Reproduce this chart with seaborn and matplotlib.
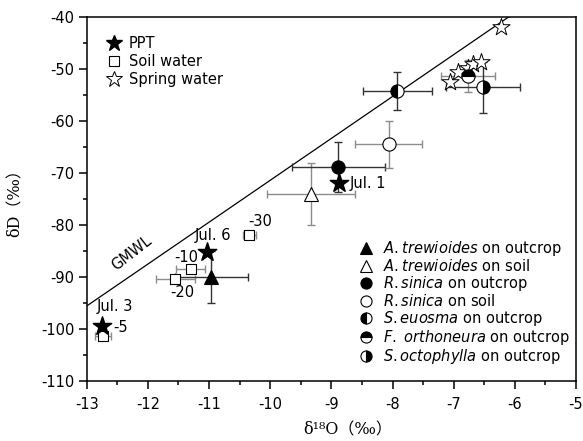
import numpy as np
import pandas as pd
import seaborn as sns
import matplotlib.pyplot as plt
from matplotlib.lines import Line2D

# GMWL
gmwl_x = [-13.0, -6.0]
gmwl_slope = 8.07
gmwl_intercept = 9.3

# precipitation (PPT)
ppt_labels = ['Jul. 3', 'Jul. 6', 'Jul. 1']
ppt_d18o = [-12.75, -11.03, -8.88]
ppt_dd = [-99.5, -85.2, -71.9]

# soil water by depth (cm)
soil_depth = ['-5', '-10', '-20', '-30']
soil_d18o = [-12.74, -11.30, -11.55, -10.34]
soil_dd = [-101.4, -88.4, -90.4, -81.9]
soil_xerr = [0.13, 0.24, 0.32, 0.11]

# spring water
spring_d18o = [-7.06, -6.93, -6.77, -6.68, -6.56, -6.22]
spring_dd = [-52.4, -50.6, -49.8, -49.0, -48.7, -41.8]

# plants: d18O, dD, xerr, yerr
plant_names = ['A.trewioides outcrop', 'A.trewioides soil', 'R.sinica outcrop',
               'R.sinica soil', 'S.euosma outcrop', 'F.orthoneura outcrop',
               'S.octophylla outcrop']
plant_d18o = [-10.96, -9.34, -8.89, -8.06, -7.92, -6.76, -6.52]
plant_dd = [-90.0, -74.1, -68.9, -64.5, -54.2, -51.3, -53.5]
plant_xerr = [0.60, 0.72, 0.76, 0.55, 0.56, 0.44, 0.60]
plant_yerr = [5.0, 6.0, 4.8, 4.5, 3.7, 3.0, 4.9]

legend_species = [r'$\it{A.trewioides}$ on outcrop', r'$\it{A.trewioides}$ on soil',
                  r'$\it{R.sinica}$ on outcrop', r'$\it{R.sinica}$ on soil',
                  r'$\it{S.euosma}$ on outcrop', r'$\it{F.\ orthoneura}$ on outcrop',
                  r'$\it{S.octophylla}$ on outcrop']

sns.set_style('ticks')
plt.rcParams['font.family'] = ['DejaVu Sans']
plt.rcParams['mathtext.fontset'] = 'dejavusans'
for key in ['text.color', 'axes.labelcolor', 'xtick.color', 'ytick.color',
            'axes.edgecolor']:
    plt.rcParams[key] = 'black'

fig = plt.figure(figsize=(5.83, 4.41), dpi=100)
ax = fig.add_axes([0.1487, 0.1367, 0.8393, 0.8241])

# GMWL
gx = np.array(gmwl_x)
gmwl = pd.DataFrame({'x': gx, 'y': gmwl_slope * gx + gmwl_intercept})
sns.lineplot(data=gmwl, x='x', y='y', color='black', lw=0.9, ax=ax, zorder=2)

dark = '#333333'
grey = '#8c8c8c'
bar_colors = [dark, grey, dark, grey, dark, grey, dark]

# error bars
ax.errorbar(soil_d18o, soil_dd, xerr=soil_xerr, fmt='none', ecolor=grey,
            elinewidth=1, capsize=3, zorder=3)
for i in range(len(plant_names)):
    ax.errorbar(plant_d18o[i], plant_dd[i], xerr=plant_xerr[i], yerr=plant_yerr[i],
                fmt='none', ecolor=bar_colors[i], elinewidth=1, capsize=3, zorder=3)

# points
sns.scatterplot(x=soil_d18o, y=soil_dd, marker='s', s=55, facecolor='white',
                edgecolor='black', linewidth=0.8, ax=ax, zorder=5)
sns.scatterplot(x=spring_d18o, y=spring_dd, marker='*', s=170, facecolor='white',
                edgecolor='black', linewidth=0.7, ax=ax, zorder=5)
sns.scatterplot(x=ppt_d18o, y=ppt_dd, marker='*', s=190, color='black',
                edgecolor='black', ax=ax, zorder=7)

styles = [('^', 'full', 'black'), ('^', 'none', 'white'), ('o', 'full', 'black'),
          ('o', 'none', 'white'), ('o', 'left', 'black'), ('o', 'top', 'black'),
          ('o', 'right', 'black')]
handles = []
for i, (m, fs, fc) in enumerate(styles):
    kw = dict(marker=m, markeredgecolor='black', markeredgewidth=0.8, linestyle='none')
    if fs in ('left', 'top', 'right'):
        kw.update(fillstyle=fs, markerfacecolor='black', markerfacecoloralt='white')
    else:
        kw.update(markerfacecolor=fc)
    ax.plot(plant_d18o[i], plant_dd[i], markersize=9.5, zorder=6, **kw)
    handles.append(Line2D([], [], markersize=8, **kw))

# annotations
fs_txt = 10.5
ax.text(-12.84, -95.8, ppt_labels[0], fontsize=fs_txt, va='center')
ax.text(-11.23, -82.1, ppt_labels[1], fontsize=fs_txt, va='center')
ax.text(-8.70, -72.1, ppt_labels[2], fontsize=fs_txt, va='center')
ax.text(-12.57, -99.8, soil_depth[0], fontsize=fs_txt, va='center')
ax.text(-11.57, -86.3, soil_depth[1], fontsize=fs_txt, va='center')
ax.text(-11.64, -93.1, soil_depth[2], fontsize=fs_txt, va='center')
ax.text(-10.36, -79.4, soil_depth[3], fontsize=fs_txt, va='center')
ax.text(-12.27, -85.4, 'GMWL', fontsize=fs_txt, rotation=38, ha='center', va='center')

# legends
h1 = [Line2D([], [], marker='*', color='black', markersize=12, linestyle='none'),
      Line2D([], [], marker='s', markerfacecolor='white', markeredgecolor='black',
             markersize=7.5, linestyle='none', markeredgewidth=0.8),
      Line2D([], [], marker='*', markerfacecolor='white', markeredgecolor='black',
             markersize=12, linestyle='none', markeredgewidth=0.7)]
leg1 = ax.legend(h1, ['PPT', 'Soil water', 'Spring water'], loc='upper left',
                 bbox_to_anchor=(0.03, 0.965), frameon=False, fontsize=10.5,
                 handlelength=1.0, handletextpad=0.5, labelspacing=0.2,
                 borderaxespad=0)
ax.add_artist(leg1)
ax.legend(handles, legend_species, loc='upper left', bbox_to_anchor=(0.545, 0.406),
          frameon=False, fontsize=10.5, handlelength=1.0, handletextpad=0.6,
          labelspacing=0.0, borderaxespad=0)

ax.set_xlim(-13, -5)
ax.set_ylim(-110, -40)
ax.set_xticks(np.arange(-13, -4.9, 1))
ax.set_yticks(np.arange(-110, -39, 10))
ax.set_xticks(np.arange(-12.5, -5, 1), minor=True)
ax.set_yticks(np.arange(-105, -40, 10), minor=True)
ax.set_xticklabels([f'{int(v)}' for v in np.arange(-13, -4.9, 1)])
ax.set_yticklabels([f'{int(v)}' for v in np.arange(-110, -39, 10)])
ax.tick_params(which='major', direction='out', length=6, width=1.1, labelsize=10.5,
               color='black', pad=3)
ax.tick_params(axis='x', which='major', pad=6)
ax.tick_params(which='minor', direction='out', length=3, width=1.1, color='black')
for sp in ax.spines.values():
    sp.set_linewidth(1.1)
    sp.set_color('black')

label_font = ['DejaVu Serif', 'Noto Sans CJK SC']
ax.set_xlabel('δ¹⁸O（‰）', family=label_font, fontsize=11.5)
ax.set_ylabel('δD（‰）', family=label_font, fontsize=11.5, labelpad=12)
ax.xaxis.set_label_coords(0.534, -0.112)

fig.savefig('out.png', dpi=100)
